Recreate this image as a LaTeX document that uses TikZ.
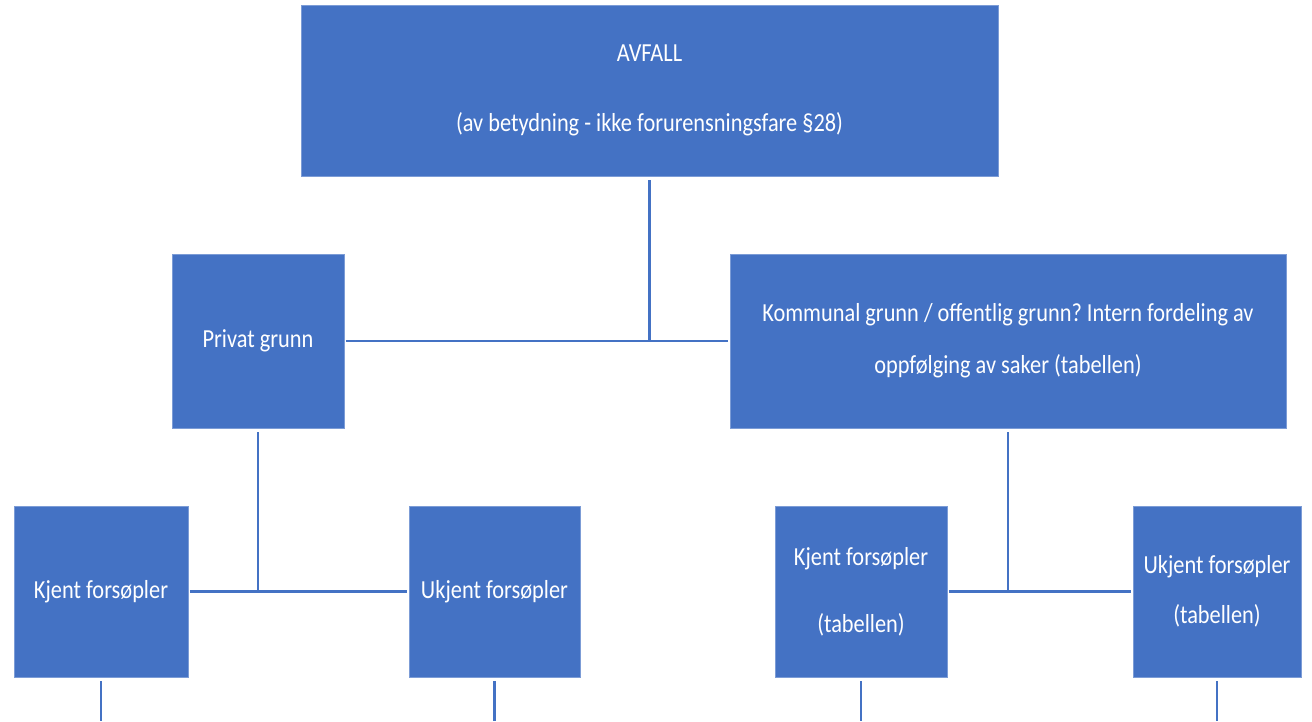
\documentclass[tikz,border=0pt]{standalone}
\usepackage{fontspec}
\setmainfont{Carlito}[FakeStretch=0.86]
\definecolor{boxblue}{HTML}{4472C4}
\frenchspacing
\begin{document}
\begin{tikzpicture}[x=1pt,y=-1pt,
  box/.style={fill=boxblue,draw=boxblue!70!white,line width=0.6pt,inner sep=0pt,text=white,align=center,font=\fontsize{26}{30}\selectfont},
  link/.style={draw=boxblue,line width=2.2pt}]
\useasboundingbox[fill=white] (0,0) rectangle (1312,721);
\node[box,minimum width=697,minimum height=171] (top) at (649.5,90.5) {AVFALL\\[40pt](av betydning - ikke forurensningsfare §28)};
\node[box,minimum width=172,minimum height=174] (privat) at (258,341) {Privat grunn};
\node[box,minimum width=556,minimum height=174] (kommunal) at (1008,341) {Kommunal grunn / offentlig grunn? Intern fordeling av\\[22pt]oppfølging av saker (tabellen)};
\node[box,minimum width=174,minimum height=171] (kjent1) at (101,591.5) {Kjent forsøpler};
\node[box,minimum width=171,minimum height=171] (ukjent1) at (494.5,591.5) {Ukjent forsøpler};
\node[box,minimum width=172,minimum height=171] (kjent2) at (861,591.5) {Kjent forsøpler\\[37pt](tabellen)};
\node[box,minimum width=168,minimum height=171] (ukjent2) at (1217,591.5) {Ukjent forsøpler\\[20pt](tabellen)};
\coordinate (bot) at (0,721);
\draw[link,shorten >=1.5pt,shorten <=1.5pt] (privat.east) -- (kommunal.west);
\draw[link,shorten <=4pt] (top.south) -- (top.south |- privat.east);
\draw[link,shorten >=1.5pt,shorten <=1.5pt] (kjent1.east) -- (ukjent1.west);
\draw[link,shorten <=4pt] (privat.south) -- (privat.south |- kjent1.east);
\draw[link,shorten >=1.5pt,shorten <=1.5pt] (kjent2.east) -- (ukjent2.west);
\draw[link,shorten <=4pt] (kommunal.south) -- (kommunal.south |- kjent2.east);
\draw[link,shorten <=4pt] (kjent1.south) -- (kjent1.south |- bot);
\draw[link,shorten <=4pt] (ukjent1.south) -- (ukjent1.south |- bot);
\draw[link,shorten <=4pt] (kjent2.south) -- (kjent2.south |- bot);
\draw[link,shorten <=4pt] (ukjent2.south) -- (ukjent2.south |- bot);
\end{tikzpicture}
\end{document}
